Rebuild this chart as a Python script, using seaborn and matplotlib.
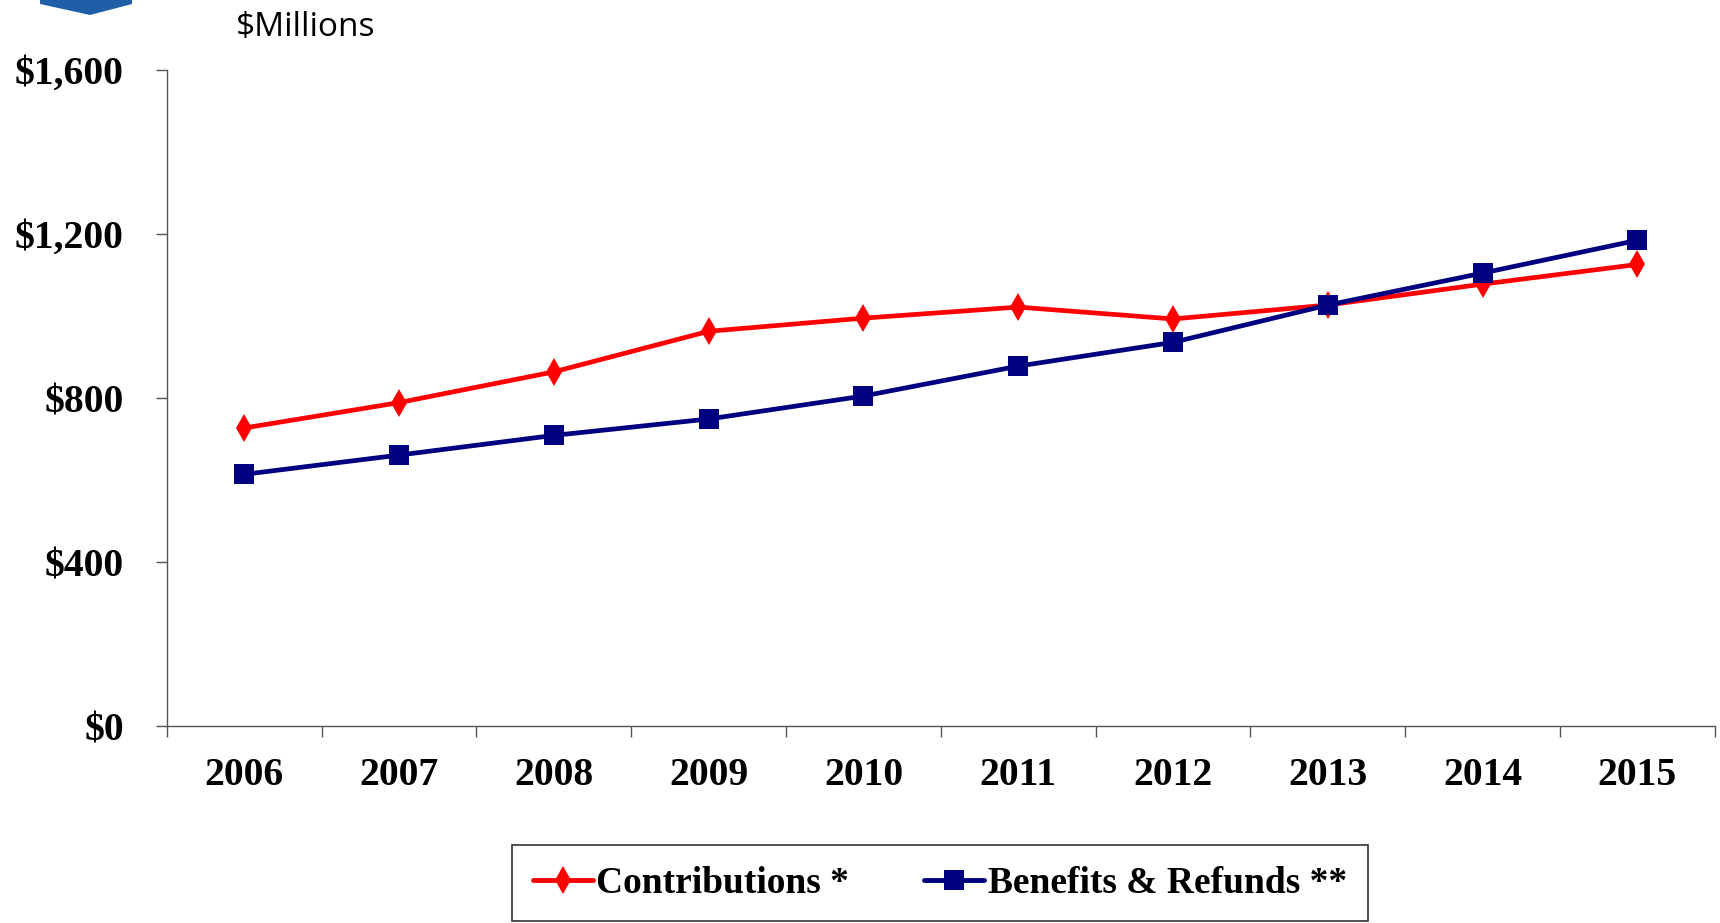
import matplotlib
matplotlib.use("Agg")
import matplotlib.pyplot as plt
import seaborn as sns
import pandas as pd
from matplotlib.patches import Polygon

years = ["2006", "2007", "2008", "2009", "2010", "2011", "2012", "2013", "2014", "2015"]
contributions = [727, 789, 864, 963, 995, 1022, 993, 1027, 1078, 1126]
benefits = [614, 661, 709, 749, 805, 878, 936, 1027, 1105, 1185]
y_ticks = [0, 400, 800, 1200, 1600]
y_tick_labels = ["$0", "$400", "$800", "$1,200", "$1,600"]
series_names = ["Contributions *", "Benefits & Refunds **"]

sns.set_theme(style="white")
plt.rcParams['font.family'] = ['Liberation Serif', 'DejaVu Serif']
plt.rcParams['text.color'] = 'black'
plt.rcParams['xtick.color'] = 'black'
plt.rcParams['ytick.color'] = 'black'

df = pd.DataFrame({
    "idx": list(range(len(years))) * 2,
    "value": contributions + benefits,
    "series": [series_names[0]] * len(years) + [series_names[1]] * len(years),
})

fig = plt.figure(figsize=(17.2, 9.23), dpi=100)
ax = fig.add_axes([0.097, 0.2134, 0.9, 0.7106])

sns.lineplot(data=df, x="idx", y="value", hue="series", style="series",
             palette={series_names[0]: "#FF0000", series_names[1]: "#000080"},
             markers={series_names[0]: "d", series_names[1]: "s"},
             dashes=False, linewidth=3.4, markersize=14, markeredgewidth=0,
             ax=ax, legend=True)

ax.set_xlim(-0.5, len(years) - 0.5)
ax.set_ylim(0, 1600)
ax.set_yticks(y_ticks)
ax.set_yticklabels(y_tick_labels)
ax.set_xticks([i - 0.5 for i in range(len(years) + 1)])
ax.set_xticklabels([])
ax.set_xticks(list(range(len(years))), minor=True)
ax.set_xticklabels(years, minor=True)
ax.tick_params(axis="x", which="major", direction="out", length=8, width=1,
               color="#555555", bottom=True)
ax.tick_params(axis="x", which="minor", length=0, pad=22, labelsize=28.5,
               labelcolor="black")
ax.tick_params(axis="y", direction="out", length=8, width=1, color="#555555",
               pad=23, labelsize=28.5, left=True, labelcolor="black")
for lab in ax.get_xticklabels(minor=True) + ax.get_yticklabels():
    lab.set_fontweight("bold")
ax.set_xlabel("")
ax.set_ylabel("")
for s in ["top", "right"]:
    ax.spines[s].set_visible(False)
for s in ["left", "bottom"]:
    ax.spines[s].set_color("#555555")
    ax.spines[s].set_linewidth(1)
ax.grid(False)

handles, labels = ax.get_legend_handles_labels()
leg = ax.legend(handles, labels, loc="center", bbox_to_anchor=(0.5465, 0.043),
                bbox_transform=fig.transFigure, ncol=2, frameon=True,
                fancybox=False, edgecolor="black", handlelength=1.6,
                handletextpad=0.1, columnspacing=2.0, borderpad=0.55,
                borderaxespad=0,
                prop={"family": "Liberation Serif", "weight": "bold", "size": 27})
leg.get_frame().set_linewidth(1.2)
for t in leg.get_texts():
    t.set_color("black")
for h in leg.get_lines():
    h.set_linewidth(3.5)
    h.set_markersize(14)

fig.text(236 / 1720, 1 - 27 / 923, "$Millions", family=["Open Sans", "DejaVu Sans"],
         fontsize=24, ha="left", va="center", color="black")

# partial logo shape at top-left
fig.patches.append(Polygon([(40 / 1720, 1.0), (132 / 1720, 1.0), (132 / 1720, 1 - 4 / 923),
                            (90 / 1720, 1 - 15 / 923), (40 / 1720, 1 - 4 / 923)],
                           closed=True, transform=fig.transFigure, facecolor="#1F5FA8",
                           edgecolor="none"))

fig.savefig("out.png", dpi=100)
